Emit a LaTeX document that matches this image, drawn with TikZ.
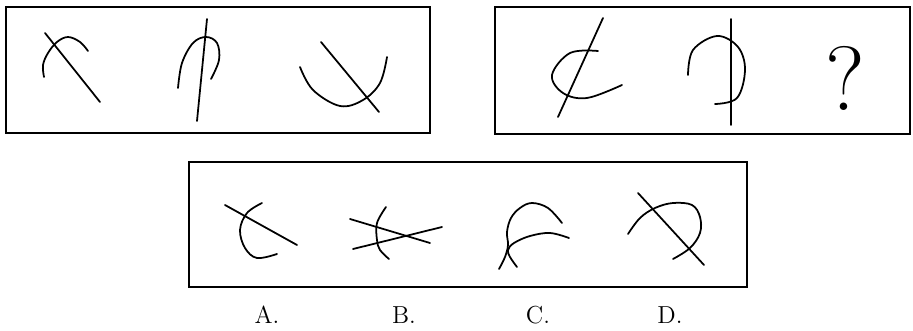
\documentclass[tikz,border=0pt]{standalone}
\usepackage{tikz}
\usetikzlibrary{positioning}

\begin{document}
\begin{tikzpicture}[x=0.02cm, y=-0.02cm,
        panel/.style={draw, line width=0.7pt},
        stroke/.style={line width=1pt, line cap=round},
        curve/.style={stroke, smooth, tension=0.6},
        optlabel/.style={font=\fontsize{14}{16}\selectfont}]
      \useasboundingbox (0,0) rectangle (913,331);

      % panels
      \draw[panel] (6,7) rectangle (430,133);
      \draw[panel] (495,7) rectangle (910,134);
      \draw[panel] (189,162) rectangle (747,287);

      % first row
      \draw[stroke] (45,33) -- (100,102);
      \draw[curve] plot coordinates {(44,77) (43,65) (48,53) (57,42) (68,37) (80,42) (88,51)};

      \draw[stroke] (207,19) -- (197,121);
      \draw[curve] plot coordinates {(178,88) (182,63) (193,43) (206,37) (217,43) (219,60) (211,79)};

      \draw[stroke] (321,42) -- (379,112);
      \draw[curve] plot coordinates {(300,67) (313,90) (340,106) (363,100) (380,83) (387,57)};

      % second row
      \draw[stroke] (603,18) -- (558,117);
      \draw[curve] plot coordinates {(598,51) (570,53) (552,75) (563,93) (587,98) (622,85)};

      \draw[stroke] (731,19) -- (731,125);
      \draw[curve] plot coordinates {(688,75) (693,50) (717,36) (738,47) (745,70) (737,98) (715,104)};

      \node[font=\fontsize{52}{52}\selectfont] (q) at (845,78) {?};

      % options
      \draw[stroke] (225,205) -- (297,245);
      \draw[curve] plot coordinates {(262,203) (247,213) (240,230) (245,248) (257,258) (277,254)};

      \draw[stroke] (350,219) -- (430,243);
      \draw[stroke] (353,249) -- (442,227);
      \draw[curve] plot coordinates {(386,207) (377,223) (377,240) (380,250) (389,259)};

      \draw[curve] plot coordinates {(499,269) (505,257) (508,245) (507,232) (511,218) (520,208) (532,203) (548,208) (562,223)};
      \draw[curve] plot coordinates {(517,267) (510,257) (508,250) (514,243) (530,236) (550,233) (569,238)};

      \draw[stroke] (638,193) -- (704,265);
      \draw[curve] plot coordinates {(628,234) (640,218) (655,208) (673,203) (692,205) (700,217) (700,233) (690,248) (673,259)};

      \node[optlabel] (la) at (267,315) {A.};
      \node[optlabel] (lb) at (404,315) {B.};
      \node[optlabel] (lc) at (538,315) {C.};
      \node[optlabel] (ld) at (670,315) {D.};
\end{tikzpicture}
\end{document}
